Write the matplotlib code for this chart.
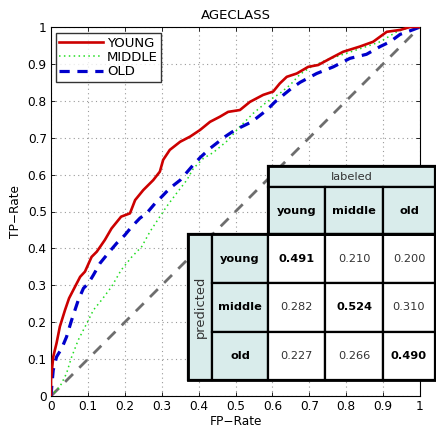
import matplotlib
matplotlib.use("Agg")
import matplotlib.pyplot as plt
from matplotlib.patches import Rectangle
import numpy as np

# ---------------- data ----------------
young_fpr = [0.0, 0.0, 0.006, 0.015, 0.024, 0.038, 0.049, 0.065, 0.079, 0.092, 0.11, 0.124,
             0.146, 0.164, 0.19, 0.214, 0.228, 0.25, 0.277, 0.295, 0.304, 0.322, 0.35, 0.377,
             0.404, 0.431, 0.458, 0.48, 0.512, 0.539, 0.575, 0.602, 0.62, 0.639, 0.666, 0.697,
             0.724, 0.765, 0.792, 0.837, 0.873, 0.91, 0.946, 0.973, 1.0]
young_tpr = [0.0, 0.043, 0.106, 0.143, 0.188, 0.233, 0.265, 0.296, 0.323, 0.337, 0.377, 0.391,
             0.423, 0.454, 0.486, 0.495, 0.531, 0.558, 0.585, 0.608, 0.64, 0.667, 0.689, 0.703,
             0.721, 0.743, 0.757, 0.77, 0.775, 0.797, 0.816, 0.825, 0.847, 0.865, 0.874, 0.892,
             0.897, 0.919, 0.933, 0.947, 0.96, 0.987, 0.992, 1.0, 1.0]

middle_fpr = [0.0, 0.024, 0.042, 0.056, 0.074, 0.097, 0.115, 0.137, 0.164, 0.19, 0.219, 0.246,
              0.268, 0.295, 0.313, 0.34, 0.368, 0.386, 0.413, 0.44, 0.476, 0.512, 0.548, 0.585,
              0.62, 0.648, 0.675, 0.702, 0.747, 0.801, 0.855, 0.892, 0.937, 0.973, 1.0]
middle_tpr = [0.0, 0.025, 0.061, 0.106, 0.152, 0.197, 0.233, 0.26, 0.296, 0.341, 0.377, 0.405,
              0.445, 0.486, 0.513, 0.549, 0.585, 0.617, 0.644, 0.66, 0.69, 0.73, 0.766, 0.797,
              0.82, 0.843, 0.872, 0.89, 0.911, 0.929, 0.947, 0.96, 0.987, 1.0, 1.0]

old_fpr = [0.0, 0.002, 0.006, 0.015, 0.029, 0.042, 0.056, 0.074, 0.088, 0.101, 0.115, 0.133,
           0.155, 0.178, 0.2, 0.219, 0.241, 0.259, 0.282, 0.3, 0.322, 0.35, 0.381, 0.404,
           0.431, 0.472, 0.499, 0.544, 0.585, 0.607, 0.63, 0.652, 0.675, 0.72, 0.765, 0.81,
           0.855, 0.892, 0.919, 0.946, 0.982, 1.0]
old_tpr = [0.0, 0.025, 0.07, 0.106, 0.129, 0.16, 0.206, 0.26, 0.292, 0.305, 0.328, 0.36,
           0.387, 0.414, 0.436, 0.459, 0.482, 0.495, 0.522, 0.54, 0.563, 0.585, 0.621, 0.646,
           0.671, 0.703, 0.721, 0.743, 0.775, 0.797, 0.816, 0.834, 0.85, 0.874, 0.892, 0.915,
           0.926, 0.947, 0.96, 0.98, 0.993, 1.0]

series_labels = ["YOUNG", "MIDDLE", "OLD"]
ticks = [0, 0.1, 0.2, 0.3, 0.4, 0.5, 0.6, 0.7, 0.8, 0.9, 1]
tick_labels = ["0", "0.1", "0.2", "0.3", "0.4", "0.5", "0.6", "0.7", "0.8", "0.9", "1"]

class_names = ["young", "middle", "old"]
confusion = [[0.491, 0.210, 0.200],
             [0.282, 0.524, 0.310],
             [0.227, 0.266, 0.490]]

# ---------------- figure ----------------
W, H = 436, 430
fig = plt.figure(figsize=(W / 100, H / 100), dpi=100)
ax = fig.add_axes([51 / W, 1 - 396 / H, 369 / W, 369 / H])

ax.plot([0, 1], [0, 1], color="#6e6e6e", lw=2.0, dashes=(4, 3.2), zorder=2)
ax.plot(middle_fpr, middle_tpr, color="#22dd22", lw=1.1, ls=(0, (1, 2.2)), label=series_labels[1], zorder=3)
ax.plot(old_fpr, old_tpr, color="#0000cc", lw=2.3, dashes=(3.2, 2.4), label=series_labels[2], zorder=4)
ax.plot(young_fpr, young_tpr, color="#cc0000", lw=1.9, label=series_labels[0], zorder=5)

ax.set_xlim(0, 1)
ax.set_ylim(0, 1)
ax.set_xticks(ticks)
ax.set_xticklabels(tick_labels)
ax.set_yticks(ticks)
ax.set_yticklabels(tick_labels)
ax.tick_params(direction="in", length=3, width=0.6, labelsize=8.7, top=True, right=True, pad=3)
ax.grid(True, color="#9a9a9a", ls=(0, (1, 3)), lw=0.8)
for s in ax.spines.values():
    s.set_linewidth(0.8)
ax.set_title("AGECLASS", fontsize=9.5, pad=6)
ax.set_xlabel("FP\u2212Rate", fontsize=8.7, labelpad=1)
ax.set_ylabel("TP\u2212Rate", fontsize=8.7, labelpad=4)

handles, labels = ax.get_legend_handles_labels()
order = [labels.index(l) for l in series_labels]
leg = ax.legend([handles[i] for i in order], [labels[i] for i in order],
                loc="upper left", bbox_to_anchor=(0.014, 0.983), fontsize=9.5,
                frameon=True, fancybox=False, borderpad=0.25, labelspacing=0.1,
                handlelength=3.3, handletextpad=0.3, borderaxespad=0)
leg.get_frame().set_edgecolor("black")
leg.get_frame().set_linewidth(1.0)

# ---------------- table overlay (pixel coordinates) ----------------
ov = fig.add_axes([0, 0, 1, 1], zorder=10)
ov.set_xlim(0, W)
ov.set_ylim(H, 0)
ov.axis("off")
ov.patch.set_alpha(0)

hdr = "#d9eceb"
col_x = [268, 325, 383, 435]
row_y = [234, 283, 332, 380]

def cell(x0, y0, x1, y1, fc, lw=1.6):
    ov.add_patch(Rectangle((x0, y0), x1 - x0, y1 - y0, facecolor=fc,
                           edgecolor="black", lw=lw))

fs = 8.2
# labeled header
cell(268, 166, 435, 187, hdr)
ov.text((268 + 435) / 2, 177, "labeled", ha="center", va="center", fontsize=fs, color="#333333")
for j, nm in enumerate(class_names):
    cell(col_x[j], 187, col_x[j + 1], 234, hdr)
    ov.text((col_x[j] + col_x[j + 1]) / 2, 211, nm, ha="center", va="center",
            fontsize=fs, fontweight="bold")
# predicted column
cell(188, 234, 212, 380, hdr)
ov.text(200, 307, "predicted", ha="center", va="center", rotation=90, fontsize=fs + 1.2,
        color="#333333")
for i, nm in enumerate(class_names):
    cell(212, row_y[i], 268, row_y[i + 1], hdr)
    ov.text(240, (row_y[i] + row_y[i + 1]) / 2, nm, ha="center", va="center",
            fontsize=fs, fontweight="bold")
    for j in range(3):
        cell(col_x[j], row_y[i], col_x[j + 1], row_y[i + 1], "white")
        ov.text((col_x[j] + col_x[j + 1]) / 2, (row_y[i] + row_y[i + 1]) / 2,
                f"{confusion[i][j]:.3f}", ha="center", va="center", fontsize=fs,
                fontweight="bold" if i == j else "normal",
                color="black" if i == j else "#333333")
# thicker outer borders
ov.add_patch(Rectangle((268, 166), 435 - 268, 234 - 166, fill=False, edgecolor="black", lw=2.0))
ov.add_patch(Rectangle((188, 234), 435 - 188, 380 - 234, fill=False, edgecolor="black", lw=2.0))

fig.savefig("out.png", dpi=100)
